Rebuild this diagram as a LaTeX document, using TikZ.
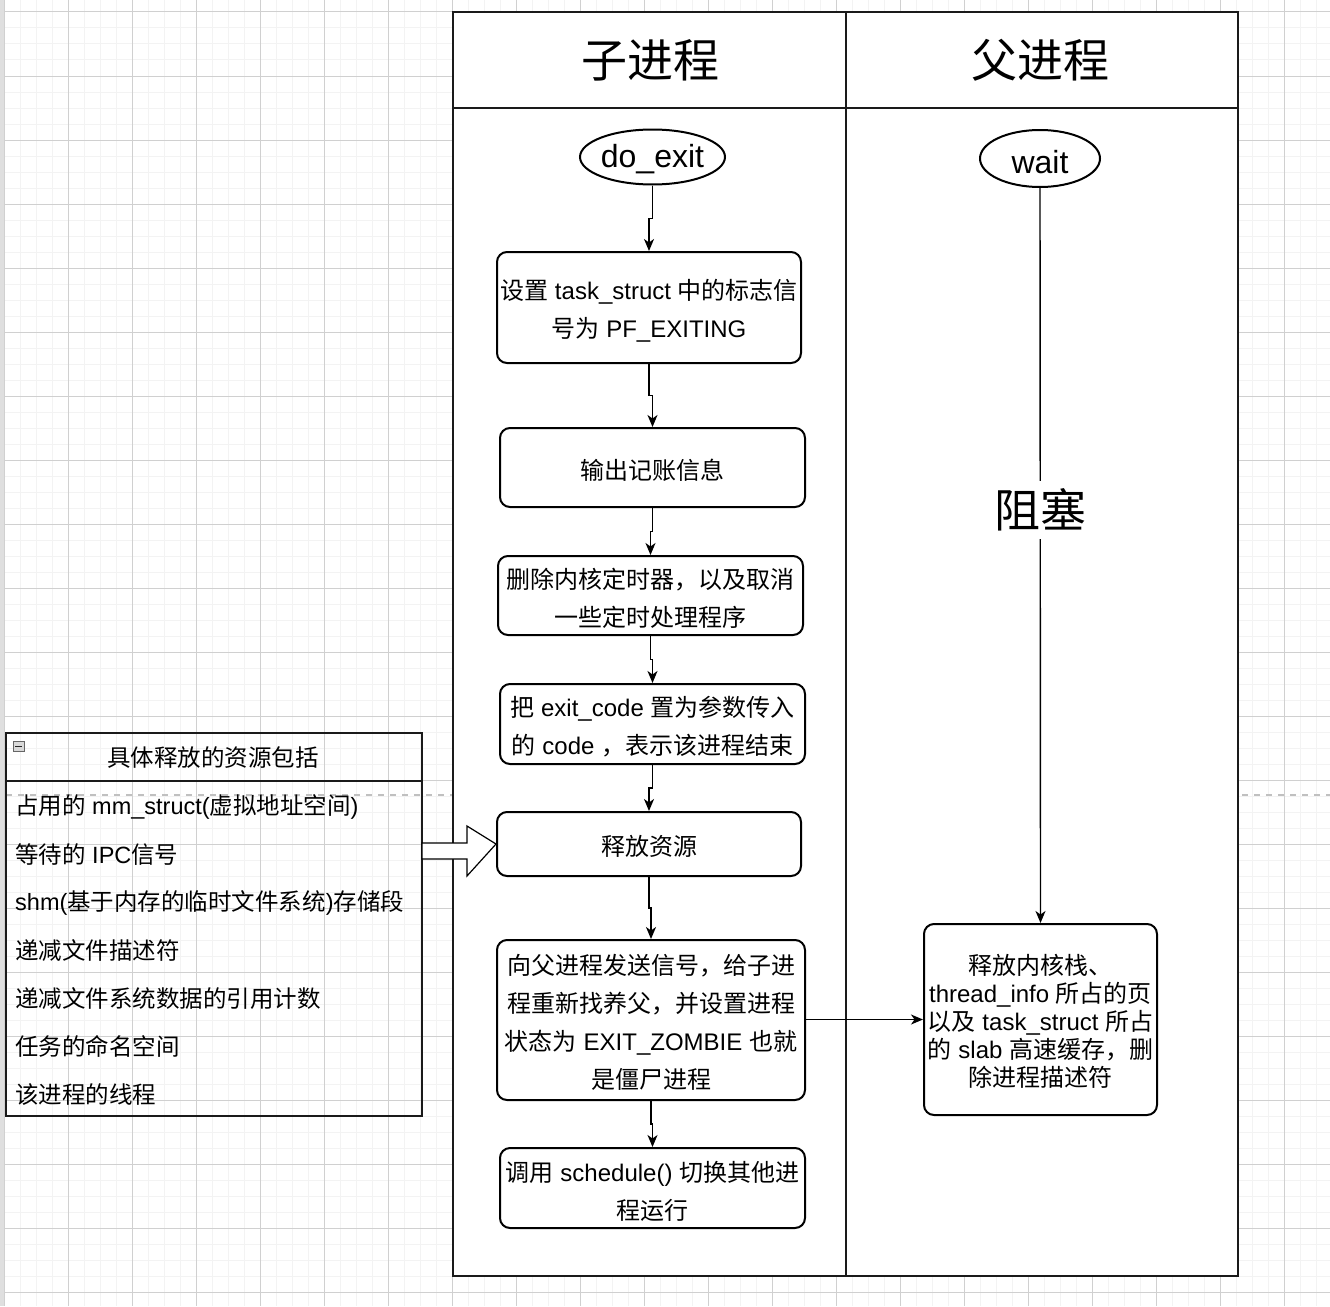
\documentclass[tikz,border=0pt]{standalone}
\usepackage{fontspec}
\setmainfont{Liberation Sans}
\newfontfamily\cjk{Noto Sans CJK SC}
\newcommand\zh[1]{{\cjk #1}}
\usetikzlibrary{arrows.meta,calc,shapes.geometric}
\definecolor{gridminor}{HTML}{F3F3F3}
\definecolor{gridmajor}{HTML}{D0D0D0}
\definecolor{pagebreak}{HTML}{C0C0C0}
\definecolor{linecol}{HTML}{1A1A1A}
\tikzset{
  stepbox/.style={draw=black,line width=2pt,rounded corners=10pt,fill=white,inner sep=0pt},
  boxtext/.style={inner sep=0pt,align=center,font=\fontsize{24}{38}\selectfont},
  ovalnode/.style={draw=black,ellipse,line width=2pt,fill=white,inner sep=0pt},
  ovaltext/.style={inner sep=0pt,font=\fontsize{32}{38}\selectfont},
  conn/.style={draw=black,line width=1.4pt,-{Stealth[length=12pt,width=10pt,inset=3.5pt]}},
  itemtext/.style={anchor=west,inner sep=0pt,font=\fontsize{23.5}{28}\selectfont},
  titletext/.style={inner sep=0pt,font=\fontsize{46}{50}\selectfont},
}
\begin{document}
\begin{tikzpicture}[x=1pt,y=-1pt]
\useasboundingbox (0,0) rectangle (1330,1306);
% background grid
\fill[white] (0,0) rectangle (1330,1306);
\foreach \gx in {0,...,83} {\draw[gridminor,line width=1pt] ({4+16*\gx},0) -- ({4+16*\gx},1306);}
\foreach \gy in {0,...,81} {\draw[gridminor,line width=1pt] (4,{12+16*\gy}) -- (1330,{12+16*\gy});}
\foreach \gx in {0,...,20} {\draw[gridmajor,line width=1pt] ({4+64*\gx},0) -- ({4+64*\gx},1306);}
\foreach \gy in {0,...,20} {\draw[gridmajor,line width=1pt] (4,{12+64*\gy}) -- (1330,{12+64*\gy});}
\fill[gray!25] (0,0) rectangle (4,1306);
% page break
\draw[pagebreak,line width=2pt,dash pattern=on 6pt off 6pt] (6,795) -- (1330,795);
% pool
\draw[linecol,line width=1.6pt,fill=white] (453,12) rectangle (1238,1276);
\draw[linecol,line width=1.6pt] (453,108) -- (1238,108);
\draw[linecol,line width=1.6pt] (846,12) -- (846,1276);
\node[titletext] (tchild) at (650,60) {\zh{子进程}};
\node[titletext] (tparent) at (1040,60) {\zh{父进程}};
% child lane
\node[ovalnode,minimum width=145pt,minimum height=55pt] (doexit) at (652.5,157) {};
\node[ovaltext] (doexitt) at ($(doexit)+(0,2)$) {do\_exit};
\node[stepbox,minimum width=304pt,minimum height=111pt] (b1) at (649,307.5) {};
\node[boxtext] (t1) at ($(b1)+(0,3.5)$) {\zh{设置} task\_struct \zh{中的标志信}\\\zh{号为} PF\_EXITING};
\node[stepbox,minimum width=305pt,minimum height=79pt] (b2) at (652.5,467.5) {};
\node[boxtext] (t2) at ($(b2)+(0,3)$) {\zh{输出记账信息}};
\node[stepbox,minimum width=305pt,minimum height=79pt] (b3) at (650.5,595.5) {};
\node[boxtext] (t3) at ($(b3)+(0,3)$) {\zh{删除内核定时器，以及取消}\\\zh{一些定时处理程序}};
\node[stepbox,minimum width=305pt,minimum height=80pt] (b4) at (652.5,724) {};
\node[boxtext] (t4) at ($(b4)+(0,3)$) {\zh{把} exit\_code \zh{置为参数传入}\\\zh{的} code \zh{，表示该进程结束}};
\node[stepbox,minimum width=304pt,minimum height=64pt] (b5) at (649,844) {};
\node[boxtext] (t5) at ($(b5)+(0,2)$) {\zh{释放资源}};
\node[stepbox,minimum width=308pt,minimum height=160pt] (b6) at (651,1020) {};
\node[boxtext] (t6) at ($(b6)+(0,2.5)$) {\zh{向父进程发送信号，给子进}\\\zh{程重新找养父，并设置进程}\\\zh{状态为} EXIT\_ZOMBIE \zh{也就}\\\zh{是僵尸进程}};
\node[stepbox,minimum width=305pt,minimum height=80pt] (b7) at (652.5,1188) {};
\node[boxtext] (t7) at ($(b7)+(0,3)$) {\zh{调用} schedule() \zh{切换其他进}\\\zh{程运行}};
% parent lane
\node[ovalnode,minimum width=120pt,minimum height=57pt] (wait) at (1040,158.5) {};
\node[ovaltext] (waitt) at ($(wait)+(0,3.5)$) {wait};
\node[stepbox,minimum width=233pt,minimum height=191pt] (rb) at (1040.5,1019.5) {};
\node[boxtext,font=\fontsize{24}{28}\selectfont] (trb) at ($(rb)+(0,1.5)$) {\zh{释放内核栈、}\\thread\_info \zh{所占的页}\\\zh{以及} task\_struct \zh{所占}\\\zh{的} slab \zh{高速缓存，删}\\\zh{除进程描述符}};
% connectors
\foreach \a/\b in {doexit/b1,b1/b2,b2/b3,b3/b4,b4/b5,b5/b6,b6/b7} {
  \draw[conn] (\a.south) |- ($(\a.south)!.5!(\b.north)$) -| (\b.north);
}
\draw[conn] (wait.south) -- (rb.north);
\node[fill=white,inner xsep=2pt,inner ysep=8pt,font=\fontsize{46}{50}\selectfont] (block) at (1040.5,510) {\zh{阻塞}};
\draw[conn] (b6.east |- rb.west) -- (rb.west);
% resource list
\node[draw=linecol,line width=1.5pt,minimum width=416pt,minimum height=383pt,inner sep=0pt] (lst) at (214,924.5) {};
\draw[linecol,line width=1.5pt] (6,781) -- (422,781);
\node[inner sep=0pt,font=\fontsize{23.5}{28}\selectfont] (lsthead) at (213,758) {\zh{具体释放的资源包括}};
\draw[gray!80!black,fill=gray!30,line width=0.8pt] (13,741) rectangle (24,751);
\draw[gray!30!black,line width=1pt] (15,746) -- (22,746);
\node[itemtext] (i1) at (15,806.5) {\zh{占用的} mm\_struct(\zh{虚拟地址空间})};
\node[itemtext] (i2) at (15,854.5) {\zh{等待的} IPC\zh{信号}};
\node[itemtext] (i3) at (15,902.5) {shm(\zh{基于内存的临时文件系统})\zh{存储段}};
\node[itemtext] (i4) at (15,950.5) {\zh{递减文件描述符}};
\node[itemtext] (i5) at (15,998.5) {\zh{递减文件系统数据的引用计数}};
\node[itemtext] (i6) at (15,1046.5) {\zh{任务的命名空间}};
\node[itemtext] (i7) at (15,1094.5) {\zh{该进程的线程}};
% block arrow from list to 释放资源
\draw[black,line width=1.2pt,fill=white,line join=miter] (422,843) -- (467,843) -- (467,826) -- (b5.west) -- (467,876) -- (467,859) -- (422,859) -- cycle;
\end{tikzpicture}
\end{document}
